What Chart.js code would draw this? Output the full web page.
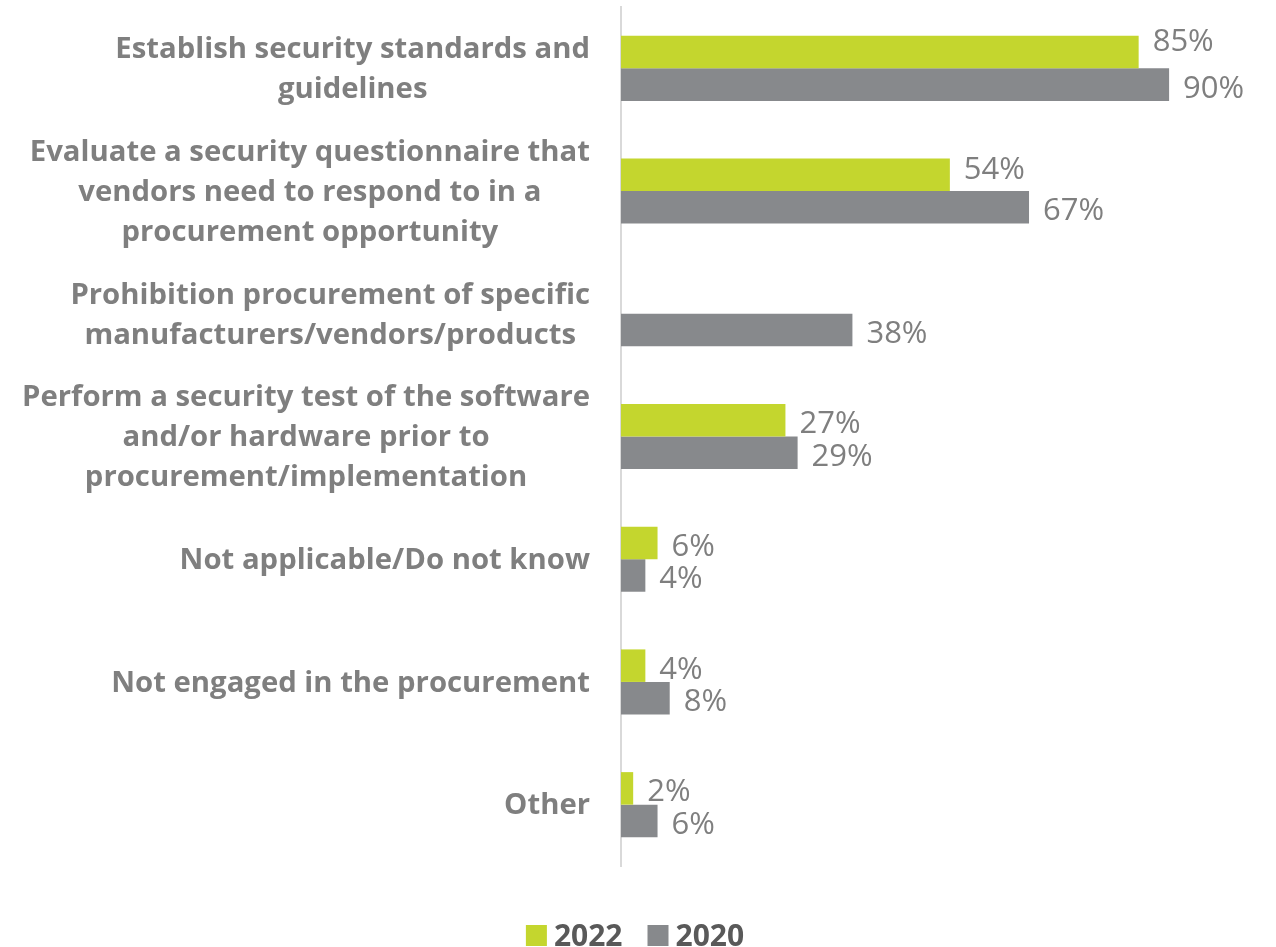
<!DOCTYPE html>
<html lang="en">
<head>
<meta charset="UTF-8">
<title>Procurement security measures</title>
<script src="https://cdn.jsdelivr.net/npm/chart.js"></script>
<style>
  html, body { margin: 0; padding: 0; background: #fff; }
  #wrap { width: 1276px; height: 947px; position: relative; }
</style>
</head>
<body>
<div id="wrap"><canvas id="chart" width="1276" height="947"></canvas></div>
<script>
// categories, one entry per line of the wrapped label
const categories = [
  ['Establish security standards and', 'guidelines'],
  ['Evaluate a security questionnaire that', 'vendors need to respond to in a', 'procurement opportunity'],
  ['Prohibition procurement of specific', 'manufacturers/vendors/products'],
  ['Perform a security test of the software', 'and/or hardware prior to', 'procurement/implementation'],
  ['Not applicable/Do not know'],
  ['Not engaged in the procurement'],
  ['Other']
];
const values2022 = [85, 54, null, 27, 6, 4, 2];
const values2020 = [90, 67, 38, 29, 4, 8, 6];
const seriesNames = ['2022', '2020'];

const GREEN = '#c4d62e';
const GREY = '#87898c';
const TEXT = '#7f7f7f';

// a couple of value labels were pulled up by hand to keep them apart
const labelNudge = { '0-0': -14, '0-1': -9 };

// category labels: each block right-aligned next to the axis, lines centred inside it
const categoryLabels = {
  id: 'categoryLabels',
  afterDraw(chart) {
    const ctx = chart.ctx;
    const y = chart.scales.y;
    const lineH = 40;
    ctx.save();
    ctx.font = 'bold 29.3px "Open Sans"';
    ctx.fillStyle = TEXT;
    ctx.textAlign = 'center';
    ctx.textBaseline = 'middle';
    const right = chart.chartArea.left - 31;
    categories.forEach((lines, i) => {
      const widest = Math.max(...lines.map(l => ctx.measureText(l).width));
      const cx = right - widest / 2;
      const cy = y.getPixelForTick(i) + 1.5;
      const top = cy - (lines.length - 1) * lineH / 2;
      lines.forEach((l, k) => ctx.fillText(l, cx, top + k * lineH));
    });
    ctx.restore();
  }
};

// value labels to the right of each bar
const valueLabels = {
  id: 'valueLabels',
  afterDatasetsDraw(chart) {
    const ctx = chart.ctx;
    ctx.save();
    ctx.font = '31px "Open Sans"';
    ctx.fillStyle = TEXT;
    ctx.textAlign = 'left';
    ctx.textBaseline = 'alphabetic';
    chart.data.datasets.forEach((ds, di) => {
      chart.getDatasetMeta(di).data.forEach((bar, i) => {
        const v = ds.data[i];
        if (v === null) return;
        const dy = labelNudge[di + '-' + i] || 0;
        ctx.fillText(v + '%', bar.x + 14, bar.y + 13 + dy);
      });
    });
    ctx.restore();
  }
};

// legend centred under the whole picture
const bottomLegend = {
  id: 'bottomLegend',
  afterDraw(chart) {
    const ctx = chart.ctx;
    const box = 21, gap = 7, spacing = 25;
    ctx.save();
    ctx.font = 'bold 30px "Open Sans"';
    ctx.textBaseline = 'alphabetic';
    ctx.textAlign = 'left';
    const items = chart.data.datasets.map(ds => ({
      text: ds.label, color: ds.backgroundColor, w: ctx.measureText(ds.label).width
    }));
    const total = items.reduce((s, it) => s + box + gap + it.w, 0) + spacing * (items.length - 1);
    let x = chart.width / 2 - 3 - total / 2;
    const base = 946;
    items.forEach(it => {
      ctx.fillStyle = it.color;
      ctx.fillRect(x, base - box, box, box);
      x += box + gap;
      ctx.fillStyle = '#595959';
      ctx.fillText(it.text, x, base);
      x += it.w + spacing;
    });
    ctx.restore();
  }
};

new Chart(document.getElementById('chart'), {
  type: 'bar',
  data: {
    labels: categories,
    datasets: [
      { label: seriesNames[0], data: values2022, backgroundColor: GREEN },
      { label: seriesNames[1], data: values2020, backgroundColor: GREY }
    ]
  },
  options: {
    indexAxis: 'y',
    responsive: false,
    animation: false,
    layout: { padding: { left: 621, right: 46, top: 7, bottom: 81 } },
    datasets: { bar: { categoryPercentage: 0.53, barPercentage: 1 } },
    scales: {
      x: { display: false, min: 0, max: 100 },
      y: {
        ticks: { display: false },
        grid: { display: false, drawTicks: false },
        border: { display: true, color: '#d9d9d9', width: 2 }
      }
    },
    plugins: {
      tooltip: { enabled: false },
      legend: { display: false }
    }
  },
  plugins: [categoryLabels, valueLabels, bottomLegend]
});
</script>
</body>
</html>
